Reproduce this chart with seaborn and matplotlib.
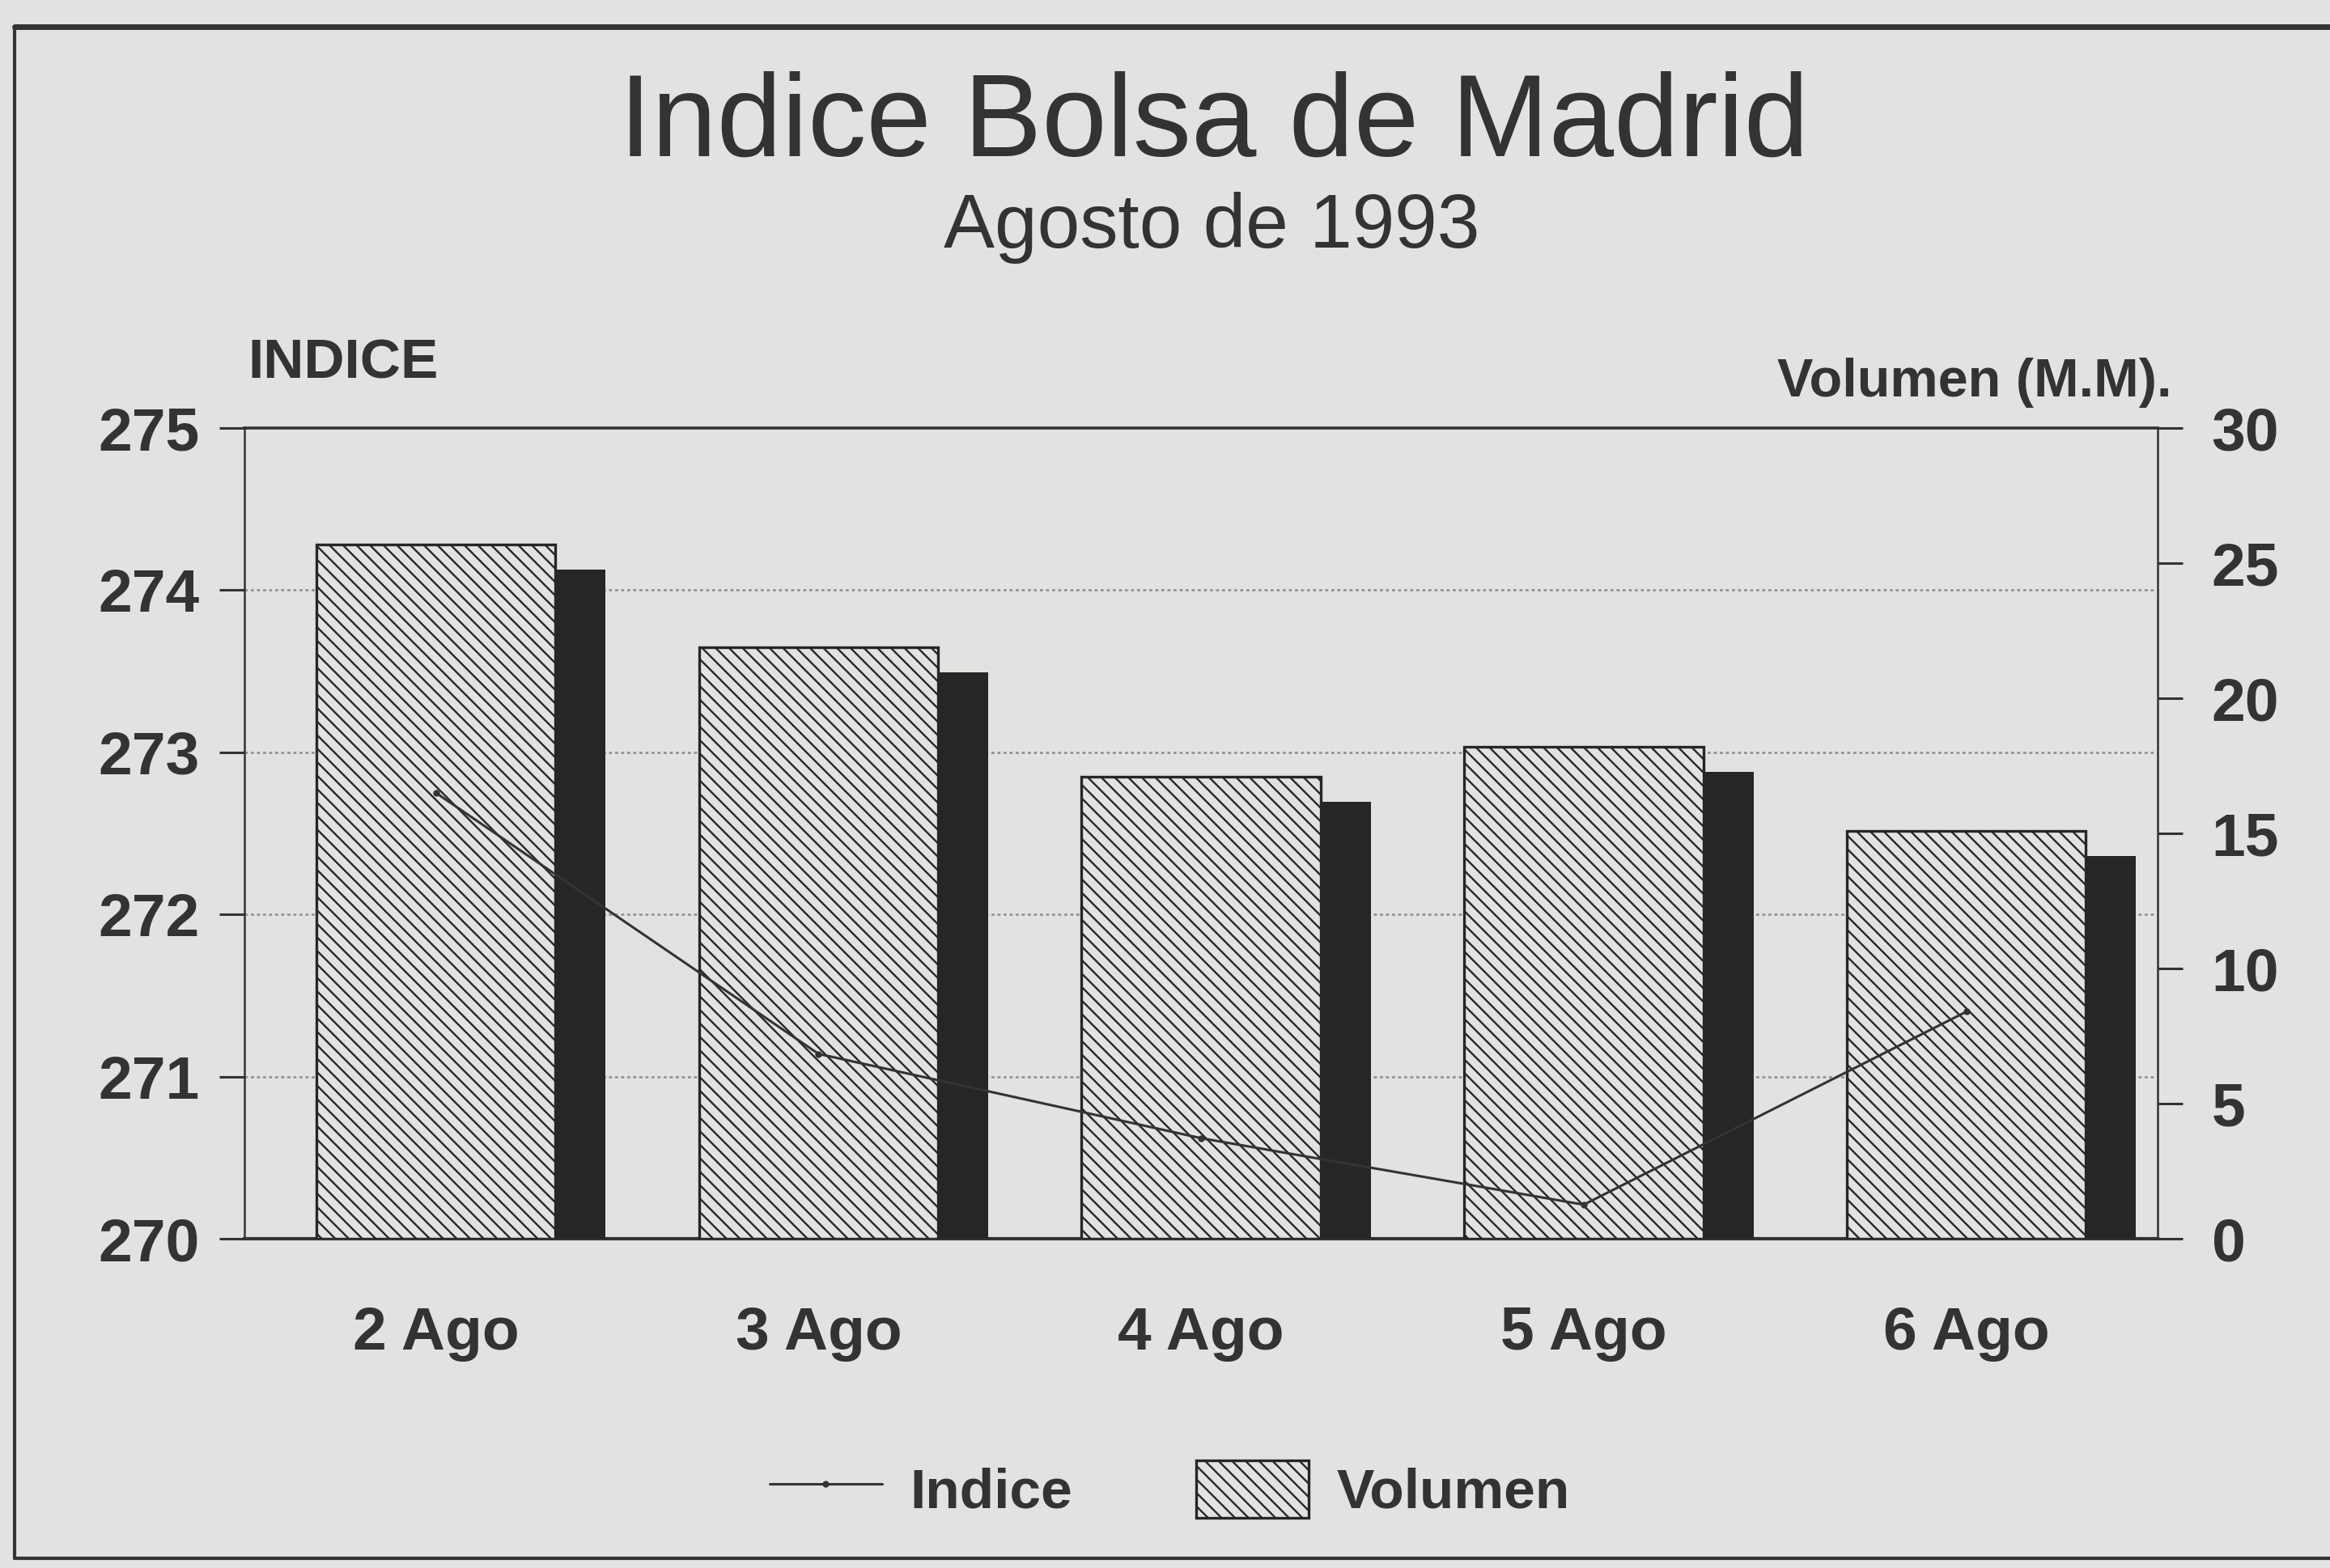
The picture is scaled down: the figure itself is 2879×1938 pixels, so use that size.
import matplotlib
matplotlib.use("Agg")
import matplotlib.pyplot as plt
import matplotlib.transforms as mtransforms
from matplotlib.lines import Line2D
from matplotlib.patches import Patch
import numpy as np
import seaborn as sns

# datos
dias = ["2 Ago", "3 Ago", "4 Ago", "5 Ago", "6 Ago"]
volumen = [25.7, 21.9, 17.1, 18.2, 15.1]          # eje derecho, M.M.
indice = [272.75, 271.14, 270.62, 270.21, 271.40]  # eje izquierdo
ticks_indice = [270, 271, 272, 273, 274, 275]
ticks_volumen = [0, 5, 10, 15, 20, 25, 30]

FONDO = "#e2e2e0"
TINTA = "#333333"
OSCURO = "#262626"

sns.set_theme(style="white")
plt.rcParams["font.family"] = ["Liberation Sans", "DejaVu Sans"]
plt.rcParams["hatch.linewidth"] = 1.7
plt.rcParams["hatch.color"] = OSCURO

fig = plt.figure(figsize=(28.79, 19.38), dpi=100, facecolor=FONDO)
ax = fig.add_axes([0.105, 0.21, 0.821, 0.517], facecolor=FONDO)
ax2 = ax.twinx()   # barras de volumen
ax3 = ax.twinx()   # linea del indice, encima de todo

# sombra de las barras (desplazada a la derecha y abajo)
sombra = mtransforms.ScaledTranslation(0.62, -0.31, fig.dpi_scale_trans)
sns.barplot(x=np.arange(len(dias)), y=volumen, ax=ax2, color=OSCURO,
            saturation=1, width=0.625, linewidth=0, native_scale=True)
for p in ax2.patches:
    p.set_transform(ax2.transData + sombra)
    p.set_zorder(1)
n_sombra = len(ax2.patches)

sns.barplot(x=np.arange(len(dias)), y=volumen, ax=ax2, color=FONDO,
            saturation=1, width=0.625, native_scale=True,
            edgecolor=OSCURO, linewidth=2.4, hatch="\\\\")
for p in ax2.patches[n_sombra:]:
    p.set_zorder(2)
    p.set_facecolor(FONDO)

sns.lineplot(x=np.arange(len(dias)), y=indice, ax=ax3, color=TINTA,
             linewidth=2.2, marker="o", markersize=6, markeredgewidth=0)

ax.set_xlim(-0.5, len(dias) - 0.5)
ax.set_ylim(270, 275)
ax2.set_ylim(0, 30)
ax3.set_ylim(270, 275)

ax.set_yticks(ticks_indice)
ax2.set_yticks(ticks_volumen)
ax.set_xticks(np.arange(len(dias)))
ax.set_xticklabels(dias)
ax3.yaxis.set_visible(False)

for a in (ax, ax2, ax3):
    a.set_xlabel("")
    a.set_ylabel("")
    for s in a.spines.values():
        s.set_visible(False)

for lado in ("left", "top", "bottom"):
    ax.spines[lado].set_visible(True)
    ax.spines[lado].set_color(TINTA)
ax.spines["left"].set_linewidth(1.8)
ax.spines["top"].set_linewidth(2.6)
ax.spines["bottom"].set_linewidth(3.0)
ax2.spines["right"].set_visible(True)
ax2.spines["right"].set_color(TINTA)
ax2.spines["right"].set_linewidth(1.8)

estilo_tick = dict(labelsize=54, labelcolor=TINTA, color=TINTA,
                   direction="out", length=22, width=2.2)
ax.tick_params(axis="y", pad=18, **estilo_tick)
ax.tick_params(axis="x", pad=38, **estilo_tick)
ax2.tick_params(axis="y", pad=26, **estilo_tick)
for lab in ax.get_yticklabels() + ax.get_xticklabels() + ax2.get_yticklabels():
    lab.set_fontweight("bold")

ax.yaxis.grid(True, color="#8c8c8c", linestyle=(0, (1.5, 1.5)), linewidth=1.8)
ax.xaxis.grid(False)
ax.set_axisbelow(True)

# titulos
fig.text(0.521, 0.92, "Indice Bolsa de Madrid", ha="center", va="center",
         fontsize=104, color=TINTA)
fig.text(0.52, 0.855, "Agosto de 1993", ha="center", va="center",
         fontsize=68, color=TINTA)
fig.text(0.1065, 0.768, "INDICE", ha="left", va="center",
         fontsize=50, fontweight="bold", color=TINTA)
fig.text(0.932, 0.756, "Volumen (M.M).", ha="right", va="center",
         fontsize=48, fontweight="bold", color=TINTA)

# leyenda
handles = [
    Line2D([], [], color=TINTA, linewidth=2.2, marker="o", markersize=6,
           markeredgewidth=0),
    Patch(facecolor=FONDO, edgecolor=OSCURO, linewidth=2.4, hatch="\\\\"),
]
fig.legend(handles, ["Indice", "Volumen"], loc="center", ncol=2,
           bbox_to_anchor=(0.502, 0.05), frameon=False,
           prop={"size": 50, "weight": "bold"}, labelcolor=TINTA,
           handlelength=2.0, handleheight=1.2, handletextpad=0.5,
           columnspacing=2.2)

# marco del recorte
fig.add_artist(Line2D([0.0064, 0.0064], [0.006, 0.983], color=TINTA, linewidth=3))
fig.add_artist(Line2D([0.0064, 1.0], [0.983, 0.983], color=TINTA, linewidth=5))
fig.add_artist(Line2D([0.0064, 1.0], [0.006, 0.006], color=TINTA, linewidth=3))

fig.savefig("out.png", dpi=100, facecolor=FONDO)
